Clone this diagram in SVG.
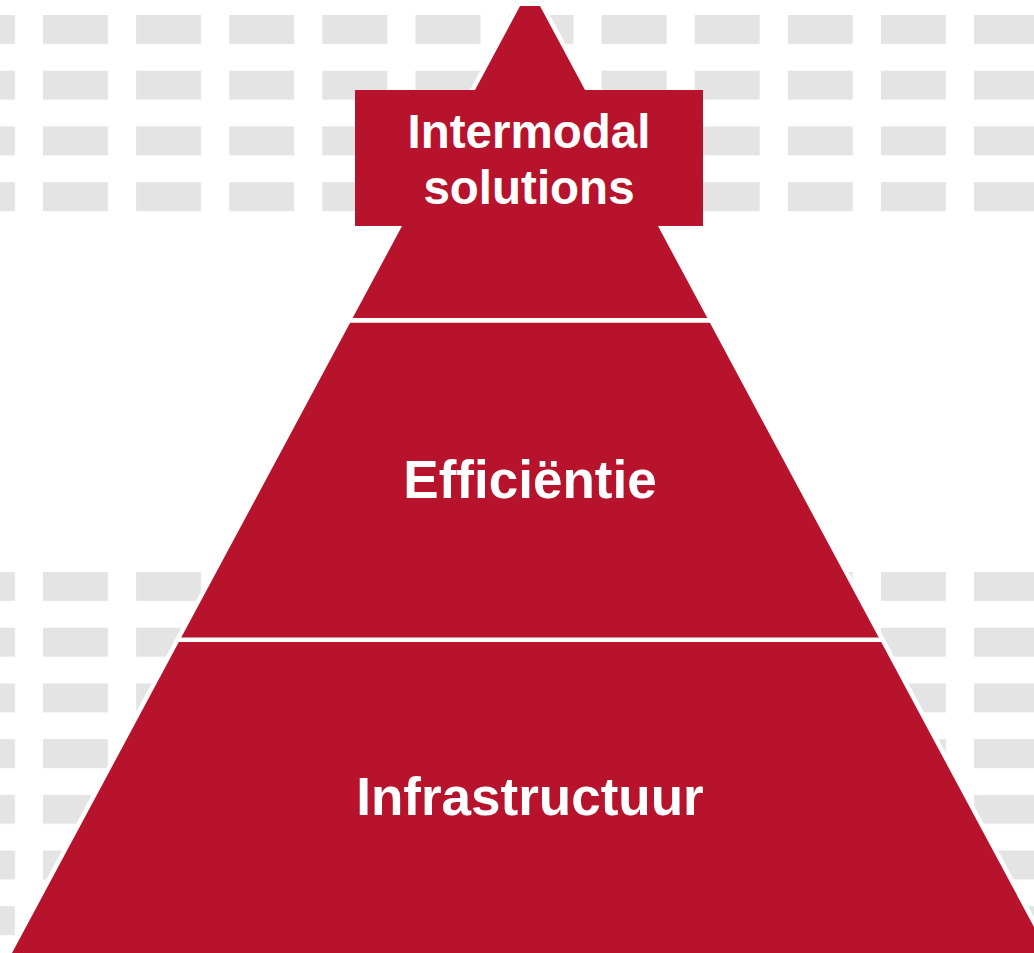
<svg xmlns="http://www.w3.org/2000/svg" width="1034" height="953" viewBox="0 0 1034 953">
  <style>
    .section { fill: #B8132C; stroke: #FFFFFF; stroke-width: 4.5; stroke-linejoin: miter; }
    .box { fill: #B8132C; }
    .label { font-family: "Liberation Sans", Arial, sans-serif; font-weight: bold; fill: #FFFFFF; text-anchor: middle; }
  </style>
  <defs>
    <pattern id="dashes" patternUnits="userSpaceOnUse" x="43" y="15" width="93.1" height="55.7">
      <rect x="0" y="0" width="65" height="29" fill="#E4E4E4"/>
    </pattern>
  </defs>
  <rect x="0" y="0" width="1034" height="953" fill="#FFFFFF"/>
  <g id="background">
    <rect x="0" y="0" width="1034" height="225" fill="url(#dashes)"/>
    <rect x="0" y="560" width="1034" height="393" fill="url(#dashes)"/>
  </g>
  <g id="connectors"></g>
  <g id="infrastructuur">
    <polygon class="section" points="177.5,639.8 882.5,639.8 1054.3,960 5.7,960"/>
    <text class="label" x="530" y="815" font-size="53">Infrastructuur</text>
  </g>
  <g id="efficientie">
    <polygon class="section" points="348.9,320.3 711.1,320.3 882.5,639.8 177.5,639.8"/>
    <text class="label" x="530" y="498" font-size="53">Efficiëntie</text>
  </g>
  <g id="intermodal">
    <polygon class="section" points="518.7,3.75 541.3,3.75 711.1,320.3 348.9,320.3"/>
    <rect class="box" x="355" y="90" width="348" height="136"/>
    <text class="label" x="529" y="148" font-size="47.5">Intermodal</text>
    <text class="label" x="529" y="204" font-size="47.5">solutions</text>
  </g>
</svg>
